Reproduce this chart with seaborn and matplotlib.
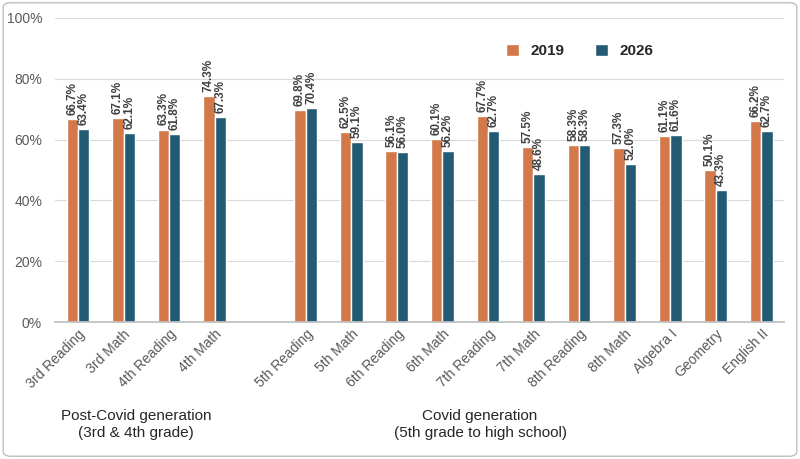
import matplotlib
matplotlib.use("Agg")
import matplotlib.pyplot as plt
import seaborn as sns
import pandas as pd
from matplotlib.patches import FancyBboxPatch

categories = ["3rd Reading", "3rd Math", "4th Reading", "4th Math", " ",
              "5th Reading", "5th Math", "6th Reading", "6th Math", "7th Reading",
              "7th Math", "8th Reading", "8th Math", "Algebra I", "Geometry", "English II"]
v2019 = [66.7, 67.1, 63.3, 74.3, None, 69.8, 62.5, 56.1, 60.1, 67.7, 57.5, 58.3, 57.3, 61.1, 50.1, 66.2]
v2026 = [63.4, 62.1, 61.8, 67.3, None, 70.4, 59.1, 56.0, 56.2, 62.7, 48.6, 58.3, 52.0, 61.6, 43.3, 62.7]

rows = []
for c, a, b in zip(categories, v2019, v2026):
    rows.append((c, "2019", a))
    rows.append((c, "2026", b))
df = pd.DataFrame(rows, columns=["cat", "year", "val"])

sns.set_theme(style="white")
plt.rcParams["font.family"] = ["Liberation Sans", "DejaVu Sans"]

fig = plt.figure(figsize=(8, 4.59), dpi=100)
ax = fig.add_axes([0.069, 0.298, 0.911, 0.663])
pal = {"2019": "#E97132", "2026": "#156082"}
sns.barplot(data=df, x="cat", y="val", hue="year", order=categories, palette=pal,
            width=0.5, ax=ax, legend=True)
for cont in ax.containers:
    labels = [f"{v:.1f}%" if v == v else "" for v in cont.datavalues]
    ax.bar_label(cont, labels=labels, rotation=90, padding=3, fontsize=8.5,
                 fontweight="bold", color="#404040")
ax.set_ylim(0, 100)
ax.set_yticks(range(0, 101, 20))
ax.set_yticklabels([f"{t}%" for t in range(0, 101, 20)], fontsize=10, color="#595959")
ax.yaxis.grid(True, color="#D9D9D9", lw=0.8)
ax.set_axisbelow(True)
ax.set_xlabel(""); ax.set_ylabel("")
ax.tick_params(axis="x", labelsize=10, colors="#595959", length=0)
for lbl in ax.get_xticklabels():
    lbl.set_rotation(45); lbl.set_ha("right"); lbl.set_rotation_mode("anchor")
for s in ["top", "right", "left"]:
    ax.spines[s].set_visible(False)
ax.spines["bottom"].set_color("#BFBFBF")
ax.legend(loc="upper right", bbox_to_anchor=(0.84, 0.96), ncol=2, frameon=False,
          prop={"weight": "bold", "size": 11}, handlelength=0.8, handleheight=0.8,
          columnspacing=2)

fig.text(0.17, 0.075, "Post-Covid generation\n(3rd & 4th grade)", ha="center",
         va="center", fontsize=11, color="#262626")
fig.text(0.60, 0.075, "Covid generation\n(5th grade to high school)", ha="center",
         va="center", fontsize=11, color="#262626")
fig.patches.append(FancyBboxPatch((0.004, 0.006), 0.992, 0.988, boxstyle="round,pad=0,rounding_size=0.01",
                                  transform=fig.transFigure, fill=False, ec="#BFBFBF", lw=1))
fig.savefig("out.png", dpi=100)
